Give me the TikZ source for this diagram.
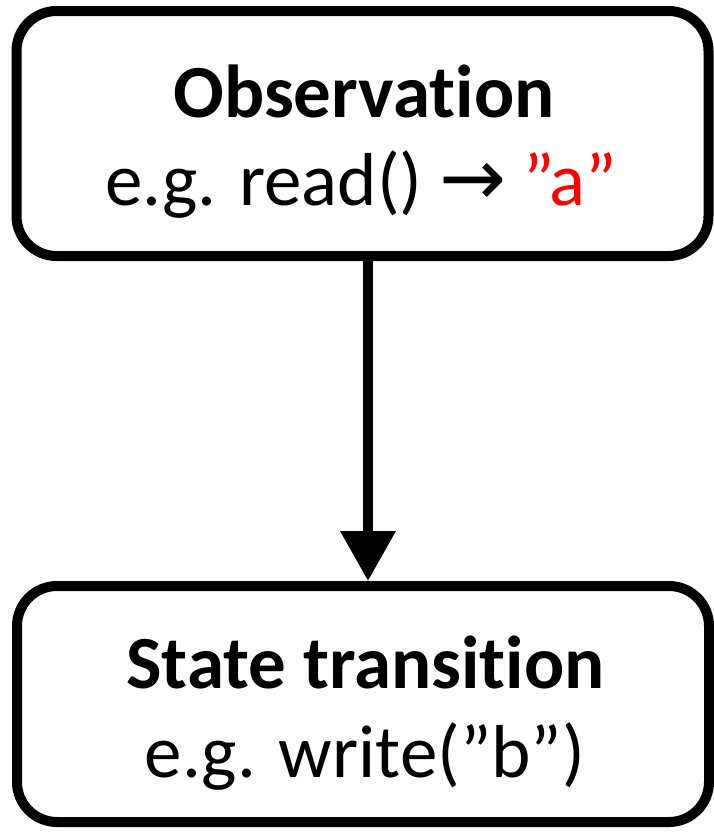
\documentclass[tikz,border=0pt]{standalone}
\usepackage{fontspec}
\setmainfont[Ligatures=CommonOff]{Carlito}
\newfontfamily\arrowfont{DejaVu Sans}
\usetikzlibrary{arrows.meta}
\definecolor{qred}{RGB}{255,0,0}
\tikzset{
  box/.style={draw=black, line width=5pt, rounded corners=20pt, fill=white, inner sep=0pt},
  txt/.style={anchor=base, inner sep=0pt, font=\fontsize{37.5pt}{44pt}\selectfont},
  flow/.style={line width=5pt, -{Triangle[length=25pt 0 0, width=26.5pt 0 0]}}
}
\begin{document}
\begin{tikzpicture}[x=0.5pt,y=-0.5pt]
\useasboundingbox (0,0) rectangle (713,835);
\node[box, minimum width=346pt, minimum height=122.5pt] (obs) at (362.5,133.5) {};
\node[txt] (obstitle) at (364,117) {\textbf{Observation}};
\node[txt] (obsdetail) at (361,205) {e.g. read() {\arrowfont\fontsize{40pt}{44pt}\selectfont →} \textcolor{qred}{”a”}};
\node[box, minimum width=346pt, minimum height=118pt] (st) at (363,704) {};
\node[txt] (sttitle) at (365.5,688) {\textbf{State transition}};
\node[txt] (stdetail) at (365,777) {e.g. write(”b”)};
\draw[flow] (obs.south -| 368,0) -- (st.north -| 368,0);
\end{tikzpicture}
\end{document}
